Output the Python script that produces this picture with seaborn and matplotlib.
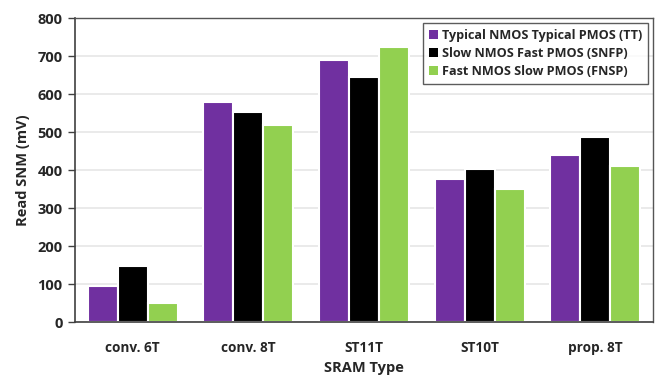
import matplotlib
matplotlib.use("Agg")
import matplotlib.pyplot as plt
import seaborn as sns
import pandas as pd

categories = ["conv. 6T", "conv. 8T", "ST11T", "ST10T", "prop. 8T"]
series_names = [
    "Typical NMOS Typical PMOS (TT)",
    "Slow NMOS Fast PMOS (SNFP)",
    "Fast NMOS Slow PMOS (FNSP)",
]
tt_values = [96, 580, 689, 376, 439]
snfp_values = [147, 552, 645, 403, 486]
fnsp_values = [49, 519, 724, 349, 410]
colors = ["#7030A0", "#000000", "#92D050"]

rows = []
for name, vals in zip(series_names, [tt_values, snfp_values, fnsp_values]):
    for cat, v in zip(categories, vals):
        rows.append({"SRAM Type": cat, "Corner": name, "Read SNM (mV)": v})
df = pd.DataFrame(rows)

sns.set_theme(style="white")
plt.rcParams["font.family"] = ["Open Sans", "DejaVu Sans"]
plt.rcParams["font.weight"] = "bold"

fig = plt.figure(figsize=(6.61, 3.79), dpi=100)
ax = fig.add_axes([75 / 661, 1 - 322 / 379, 578 / 661, 304 / 379])

sns.barplot(
    data=df, x="SRAM Type", y="Read SNM (mV)", hue="Corner",
    hue_order=series_names, order=categories, palette=colors,
    width=0.78, edgecolor="white", linewidth=1.5, ax=ax, saturation=1,
)

ax.set_ylim(0, 800)
ax.set_xlim(-0.5, 4.5)
ax.set_yticks(range(0, 801, 100))
ax.yaxis.grid(True, color="#E6E6E6", linewidth=1.2)
ax.set_axisbelow(True)
for side in ["top", "right"]:
    ax.spines[side].set_color("#555555")
    ax.spines[side].set_linewidth(1.0)
for side in ["left", "bottom"]:
    ax.spines[side].set_color("#404040")
    ax.spines[side].set_linewidth(1.2)

ax.tick_params(axis="y", length=5, width=1, color="#404040", labelsize=10.5, pad=4,
               direction="out", left=True)
ax.tick_params(axis="x", length=0, labelsize=9.8, pad=14)
for lbl in ax.get_xticklabels() + ax.get_yticklabels():
    lbl.set_fontweight("bold")

ax.set_xlabel("SRAM Type", fontsize=10.5, fontweight="bold", labelpad=4)
ax.set_ylabel("Read SNM (mV)", fontsize=10.5, fontweight="bold", labelpad=5)

leg = ax.legend(
    loc="upper right", bbox_to_anchor=(0.992, 0.983), frameon=True, fancybox=False,
    edgecolor="#333333", handlelength=0.75, handleheight=0.75,
    handletextpad=0.35, labelspacing=0.4, borderpad=0.45, borderaxespad=0,
    prop={"weight": "bold", "size": 9.1},
)
leg.get_frame().set_linewidth(1.0)
for h in leg.legend_handles:
    h.set_edgecolor("none")

fig.savefig("out.png", dpi=100)
